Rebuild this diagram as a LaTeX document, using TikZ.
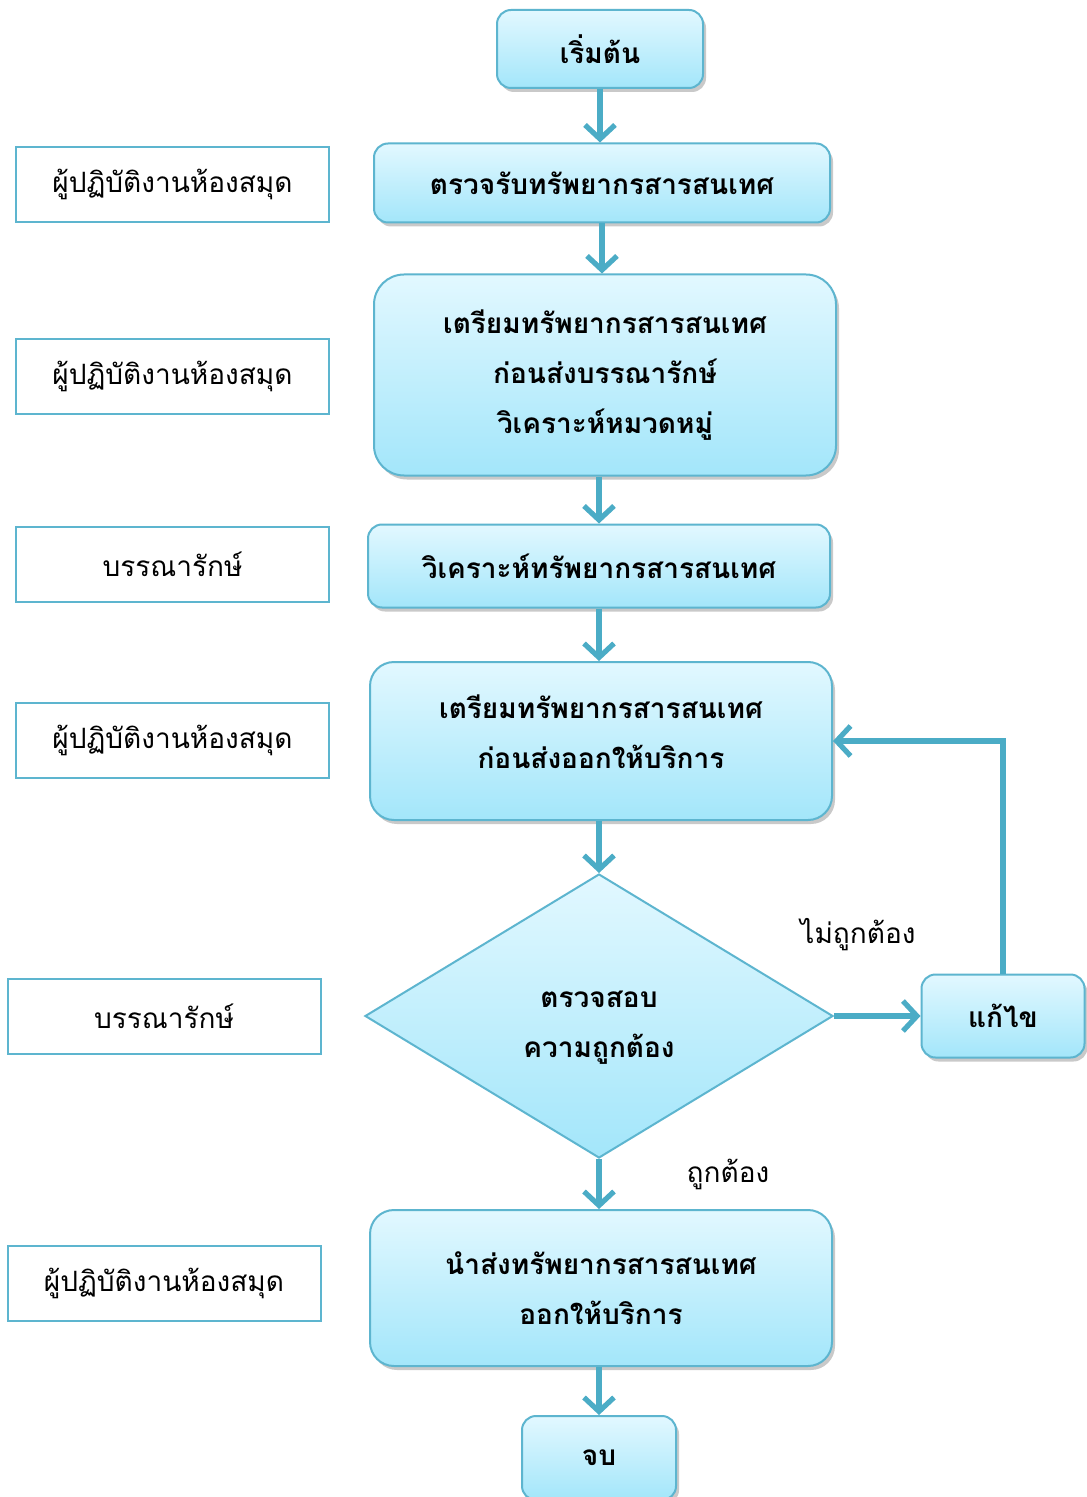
\documentclass[tikz,border=0pt]{standalone}
\usepackage{fontspec}
\setmainfont[Script=Thai]{Loma}
\usetikzlibrary{shapes.geometric,shadows,arrows.meta}
\definecolor{edgeblue}{HTML}{4BACC6}
\definecolor{filltop}{HTML}{E2F8FF}
\definecolor{fillbot}{HTML}{A3E6FA}
\definecolor{boxline}{HTML}{5DB5CF}
\tikzset{
  proc/.style={draw=boxline, line width=1pt, rounded corners=7pt,
    top color=filltop, bottom color=fillbot,
    drop shadow={shadow xshift=1.5pt, shadow yshift=-2pt, opacity=0.35, fill=black!60},
    align=center, font=\fontsize{14}{25}\selectfont\bfseries, inner sep=0pt},
  dec/.style={diamond, draw=boxline, line width=1pt,
    top color=filltop, bottom color=fillbot,
    align=center, font=\fontsize{14}{25}\selectfont\bfseries, inner sep=0pt,
    minimum width=234pt, minimum height=142pt},
  role/.style={draw=boxline, line width=1pt, fill=white,
    minimum width=156.5pt, minimum height=37.5pt,
    font=\fontsize{14}{25}\selectfont, inner sep=0pt},
  arr/.style={draw=edgeblue, line width=2.6pt,
    -{Straight Barb[length=7pt, width=15pt, line width=2.6pt]}},
  lbl/.style={font=\fontsize{14}{20}\selectfont, inner sep=0pt}
}
\begin{document}
\begin{tikzpicture}[x=0.5pt, y=0.5pt]
\useasboundingbox (0,0) rectangle (1086,-1497);
\fill[white] (0,0) rectangle (1086,-1497);

% main flow
\node[proc, minimum width=103pt, minimum height=39pt] (start) at (600,-49) {เริ่มต้น};
\node[proc, minimum width=228pt, minimum height=39.5pt] (b2) at (602,-183) {ตรวจรับทรัพยากรสารสนเทศ};
\node[proc, rounded corners=15pt, minimum width=231pt, minimum height=100.5pt] (b3) at (605,-375) {เตรียมทรัพยากรสารสนเทศ\\ก่อนส่งบรรณารักษ์\\วิเคราะห์หมวดหมู่};
\node[proc, minimum width=231pt, minimum height=41.5pt] (b4) at (599,-566) {วิเคราะห์ทรัพยากรสารสนเทศ};
\node[proc, rounded corners=12pt, minimum width=231pt, minimum height=79pt] (b5) at (601,-741) {เตรียมทรัพยากรสารสนเทศ\\ก่อนส่งออกให้บริการ\rule[-9pt]{0pt}{1pt}};
\node[dec] (dia) at (599,-1016) {\rule{0pt}{20pt}ตรวจสอบ\\ความถูกต้อง};
\node[proc, minimum width=81.5pt, minimum height=41.5pt] (fix) at (1003,-1016) {แก้ไข};
\node[proc, rounded corners=12pt, minimum width=231pt, minimum height=78pt] (b6) at (601,-1288) {นำส่งทรัพยากรสารสนเทศ\\ออกให้บริการ};
\node[proc, minimum width=77pt, minimum height=42pt] (fin) at (599,-1458) {จบ};

% roles
\node[role] (r1) at (172.5,-184.5) {ผู้ปฏิบัติงานห้องสมุด};
\node[role] (r2) at (172.5,-376.5) {ผู้ปฏิบัติงานห้องสมุด};
\node[role] (r3) at (172.5,-564.5) {บรรณารักษ์};
\node[role] (r4) at (172.5,-740.5) {ผู้ปฏิบัติงานห้องสมุด};
\node[role] (r5) at (164,-1016.5) {บรรณารักษ์};
\node[role] (r6) at (164,-1283.5) {ผู้ปฏิบัติงานห้องสมุด};

% connectors
\draw[arr] (start.south) -- (start.south |- b2.north);
\draw[arr] (b2.south) -- (b2.south |- b3.north);
\draw[arr] (b3.south -| b4.south) -- (b4.north);
\draw[arr] (b4.south) -- (b4.south |- b5.north);
\draw[arr] (b5.south -| dia.north) -- (dia.north);
\draw[arr] (dia.east) -- (fix.west);
\draw[arr] (fix.north) |- (b5.east);
\draw[arr] (dia.south) -- (dia.south |- b6.north);
\draw[arr] (b6.south -| fin.north) -- (fin.north);

% labels
\node[lbl] (no) at (858,-935) {ไม่ถูกต้อง};
\node[lbl] (yes) at (728,-1174) {ถูกต้อง};
\end{tikzpicture}
\end{document}
